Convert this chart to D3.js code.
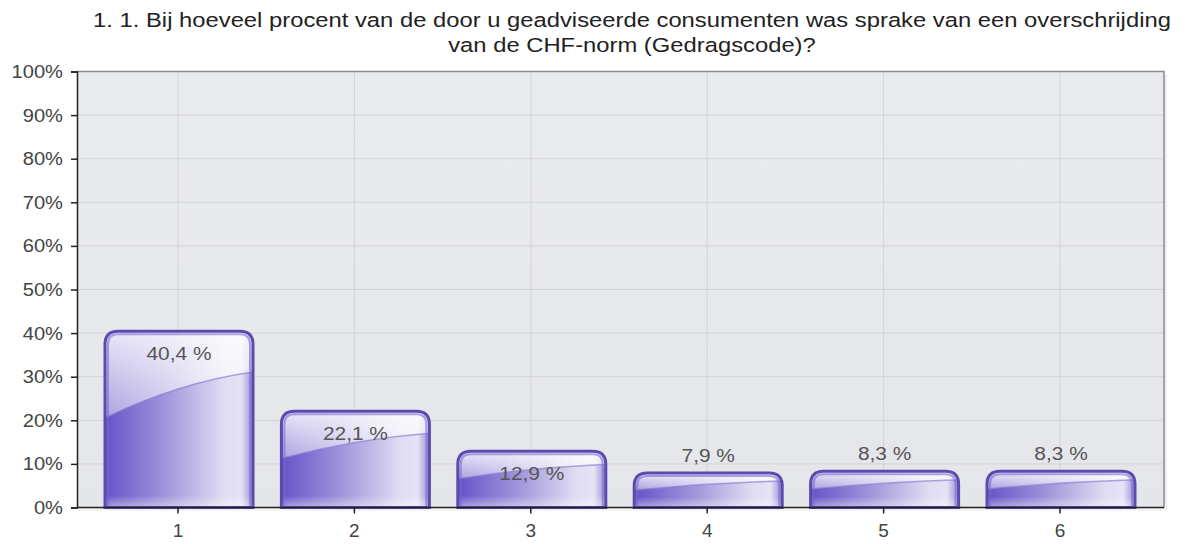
<!DOCTYPE html>
<html><head><meta charset="utf-8">
<script src="https://cdn.jsdelivr.net/npm/d3@7"></script>
<style>
html,body{margin:0;padding:0;background:#fff;}
text{font-family:"Liberation Sans",Arial,sans-serif;}
</style></head>
<body>
<svg id="c" width="1192" height="544"></svg>
<script>
const titleLines = ["1. 1. Bij hoeveel procent van de door u geadviseerde consumenten was sprake van een overschrijding", "van de CHF-norm (Gedragscode)?"];
const categories = ["1","2","3","4","5","6"];
const values = [40.4, 22.1, 12.9, 7.9, 8.3, 8.3];
const valueLabels = ["40,4 %","22,1 %","12,9 %","7,9 %","8,3 %","8,3 %"];
const yTicks = [0,10,20,30,40,50,60,70,80,90,100];

const svg = d3.select("#c");
const L = 77, R = 1164, T = 71.5, B = 507.5;
const y = d3.scaleLinear().domain([0,100]).range([B,T]);
const x = d3.scaleBand().domain(categories).range([89.8, 1148.2]).paddingInner(0.161).paddingOuter(0.0805);

const defs = svg.append("defs");
const bg = defs.append("linearGradient").attr("id","bg").attr("x1",0).attr("y1",0).attr("x2",0).attr("y2",1);
bg.append("stop").attr("offset","0%").attr("stop-color","#e9ebee");
bg.append("stop").attr("offset","100%").attr("stop-color","#e5e6e9");

const body = defs.append("linearGradient").attr("id","body").attr("x1",0).attr("y1",0).attr("x2",1).attr("y2",0);
[["0%","#6652c4"],["8%","#7260cb"],["40%","#a093db"],["80%","#e0dcf2"],["92%","#e6e3f5"],["100%","#9a8bd6"]]
  .forEach(s=>body.append("stop").attr("offset",s[0]).attr("stop-color",s[1]));
const gloss = defs.append("linearGradient").attr("id","gloss").attr("x1",0).attr("y1",0).attr("x2",0).attr("y2",1);
gloss.append("stop").attr("offset","0%").attr("stop-color","#ffffff").attr("stop-opacity",0.85);
gloss.append("stop").attr("offset","100%").attr("stop-color","#ffffff").attr("stop-opacity",0.45);
const bot = defs.append("linearGradient").attr("id","bot").attr("x1",0).attr("y1",0).attr("x2",0).attr("y2",1);
bot.append("stop").attr("offset","0%").attr("stop-color","#ffffff").attr("stop-opacity",0);
bot.append("stop").attr("offset","100%").attr("stop-color","#ffffff").attr("stop-opacity",0.45);

// shadow of plot
svg.append("rect").attr("x",L+3).attr("y",T+3).attr("width",R-L).attr("height",B-T).attr("fill","#f0f0f0");
svg.append("rect").attr("x",L).attr("y",T).attr("width",R-L).attr("height",B-T).attr("fill","url(#bg)");

// grid
svg.append("g").selectAll("line").data(yTicks.slice(1)).join("line")
  .attr("x1",L).attr("x2",R).attr("y1",d=>y(d)).attr("y2",d=>y(d))
  .attr("stroke","#d3d4d6").attr("stroke-width",1);
svg.append("g").selectAll("line").data(categories).join("line")
  .attr("x1",d=>x(d)+x.bandwidth()/2).attr("x2",d=>x(d)+x.bandwidth()/2).attr("y1",T).attr("y2",B)
  .attr("stroke","#d3d4d6").attr("stroke-width",1);

// border top/right
svg.append("path").attr("d",`M${L},${T}H${R}V${B}`).attr("fill","none").attr("stroke","#8a8a8a").attr("stroke-width",1.5);

// bars
const data = categories.map((c,i)=>({c, v:values[i], lab:valueLabels[i]}));
function barPath(x0,x1,top,bottom,r){
  r=Math.min(r,(bottom-top),(x1-x0)/2);
  return `M${x0},${bottom}V${top+r}Q${x0},${top} ${x0+r},${top}H${x1-r}Q${x1},${top} ${x1},${top+r}V${bottom}Z`;
}
const g = svg.append("g");
data.forEach((d,i)=>{
  const x0 = x(d.c)+1, x1 = x0 + x.bandwidth(), top = y(d.v), bottom = B, h = bottom-top, w = x1-x0;
  const cp = defs.append("clipPath").attr("id","cp"+i);
  cp.append("path").attr("d",barPath(x0,x1,top,bottom,13));
  const bg2 = g.append("g").attr("clip-path",`url(#cp${i})`);
  bg2.append("rect").attr("x",x0).attr("y",top).attr("width",w).attr("height",h).attr("fill","url(#body)");
  const yl = top + 0.49*h, yr = top + 0.23*h, yc = top + 0.29*h;
  bg2.append("path").attr("d",`M${x0},${top}H${x1}V${yr}Q${x0+w*0.5},${yc} ${x0},${yl}Z`).attr("fill","url(#gloss)");
  bg2.append("path").attr("d",`M${x1},${yr}Q${x0+w*0.5},${yc} ${x0},${yl}`).attr("fill","none").attr("stroke","#8f80d4").attr("stroke-width",1.5).attr("opacity",0.7);
  bg2.append("rect").attr("x",x0).attr("y",bottom-Math.min(12,h*0.3)).attr("width",w).attr("height",Math.min(12,h*0.3)).attr("fill","url(#bot)");
  bg2.append("path").attr("d",barPath(x0+3,x1-3,top+3,bottom+5,10)).attr("fill","none").attr("stroke","#7a68cc").attr("stroke-width",2).attr("opacity",0.6);
  g.append("path").attr("d",barPath(x0,x1,top,bottom,13)).attr("fill","none").attr("stroke","#5d4ab0").attr("stroke-width",3);
  const inside = h > 40;
  g.append("text").attr("transform",`translate(${(x0+x1)/2},${inside ? top+29 : top-11}) scale(1.16,1)`)
    .attr("text-anchor","middle").attr("font-size",18).attr("fill","#555").text(d.lab);
});

// axes
const yAxis = d3.axisLeft(y).tickValues(yTicks).tickFormat(d=>d+"%").tickSize(6).tickPadding(8);
const ya = svg.append("g").attr("transform",`translate(${L},0)`).call(yAxis);
ya.select(".domain").attr("stroke","#222").attr("stroke-width",1.5);
ya.selectAll(".tick line").attr("stroke","#222").attr("stroke-width",1.5);
ya.selectAll(".tick text").attr("font-size",19).attr("fill","#444").attr("font-family","Liberation Sans, Arial, sans-serif")
  .attr("transform","translate(-14,0) scale(1.06,1)").attr("x",0);

const xAxis = d3.axisBottom(x).tickSize(6).tickPadding(10).tickSizeOuter(0);
const xa = svg.append("g").attr("transform",`translate(0,${B})`).call(xAxis);
xa.select(".domain").attr("d",`M${L},0H${R}`).attr("stroke","#222").attr("stroke-width",1.5);
xa.selectAll(".tick line").attr("stroke","#222").attr("stroke-width",1.5);
xa.selectAll(".tick text").attr("font-size",19).attr("fill","#444").attr("font-family","Liberation Sans, Arial, sans-serif");

// title
svg.append("g").selectAll("text").data(titleLines).join("text")
  .attr("transform",(d,i)=>`translate(632,${27+i*25}) scale(1.22,1)`).attr("text-anchor","middle")
  .attr("font-size",19.5).attr("fill","#222").text(d=>d);
</script>
</body></html>
